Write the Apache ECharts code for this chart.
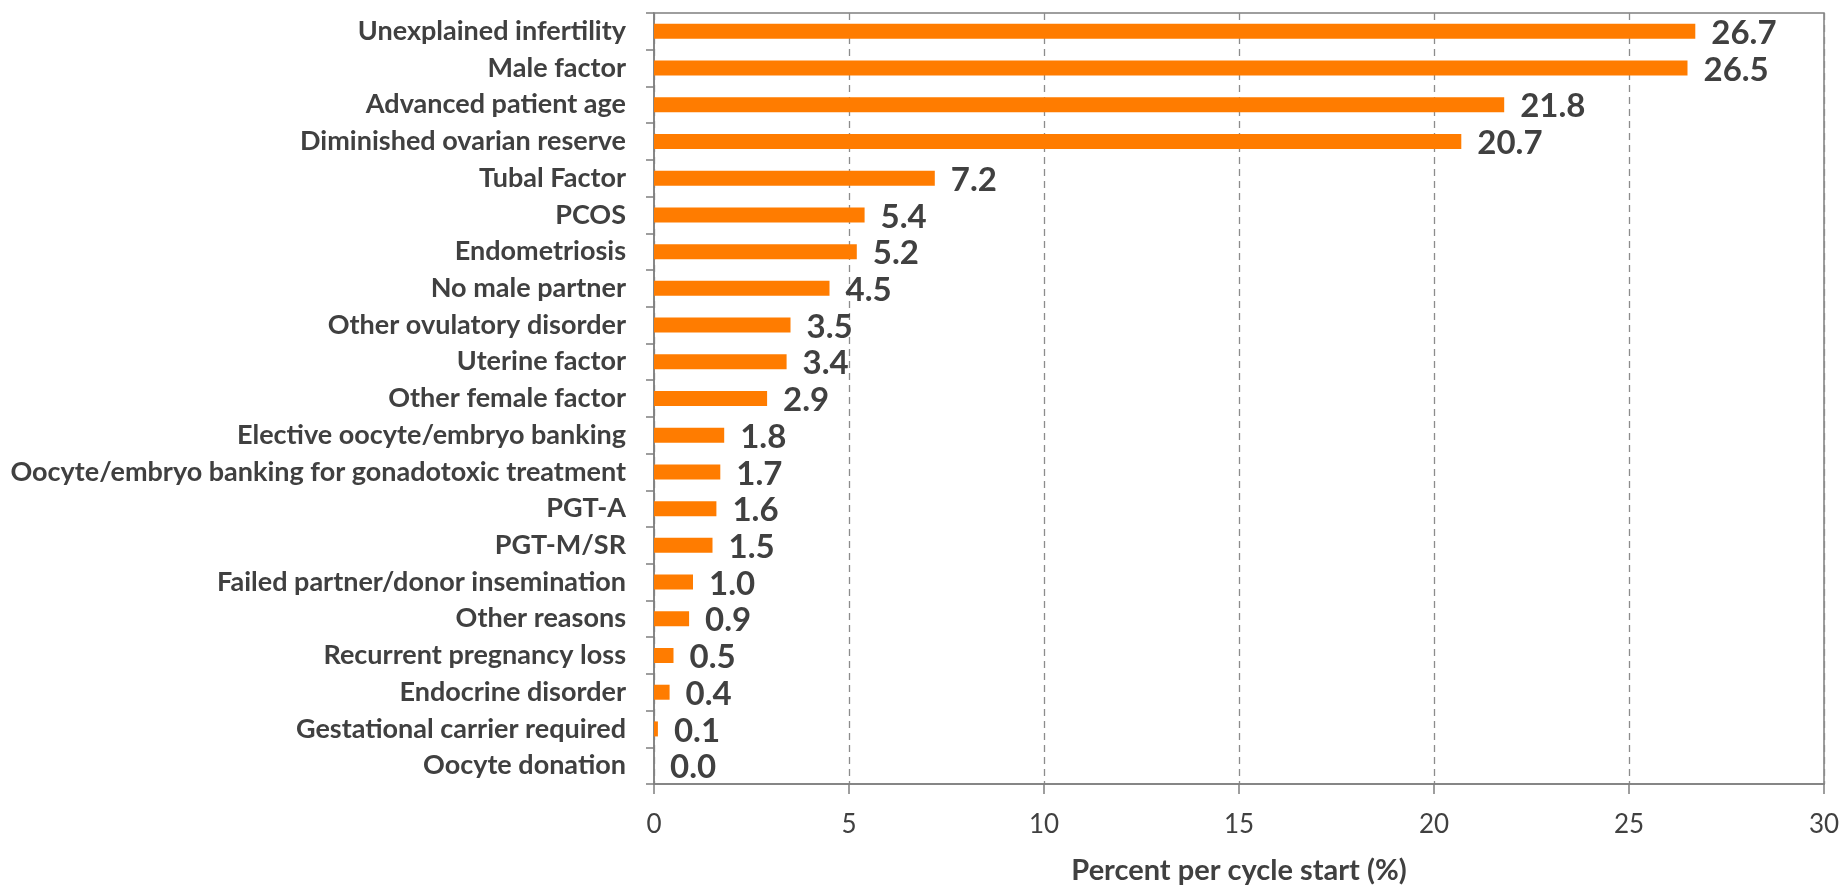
<!DOCTYPE html>
<html>
<head>
<meta charset="utf-8">
<script src="https://cdn.jsdelivr.net/npm/echarts@6/dist/echarts.min.js"></script>
<style>
html,body{margin:0;padding:0;background:#fff;}
#chart{width:1843px;height:890px;}
</style>
</head>
<body>
<div id="chart"></div>
<script>
const categories = [
  "Unexplained infertility",
  "Male factor",
  "Advanced patient age",
  "Diminished ovarian reserve",
  "Tubal Factor",
  "PCOS",
  "Endometriosis",
  "No male partner",
  "Other ovulatory disorder",
  "Uterine factor",
  "Other female factor",
  "Elective oocyte/embryo banking",
  "Oocyte/embryo banking for gonadotoxic treatment",
  "PGT-A",
  "PGT-M/SR",
  "Failed partner/donor insemination",
  "Other reasons",
  "Recurrent pregnancy loss",
  "Endocrine disorder",
  "Gestational carrier required",
  "Oocyte donation"
];
const values = [26.7, 26.5, 21.8, 20.7, 7.2, 5.4, 5.2, 4.5, 3.5, 3.4, 2.9, 1.8, 1.7, 1.6, 1.5, 1.0, 0.9, 0.5, 0.4, 0.1, 0.0];
const xTicks = [0, 5, 10, 15, 20, 25, 30];
const xTitle = "Percent per cycle start (%)";

const FONT = "Lato, 'Open Sans', sans-serif";
const TXT = "#404040";
const chart = echarts.init(document.getElementById('chart'), null, {renderer: 'canvas'});
chart.setOption({
  animation: false,
  backgroundColor: '#ffffff',
  grid: {left: 654, right: 19, top: 13, bottom: 103, containLabel: false,
         show: true, borderColor: '#7f7f7f', borderWidth: 1.5, backgroundColor: 'transparent'},
  xAxis: {
    type: 'value', min: xTicks[0], max: xTicks[xTicks.length - 1], interval: 5,
    name: xTitle, nameLocation: 'middle', nameGap: 72,
    nameTextStyle: {fontFamily: FONT, fontWeight: 'bold', fontSize: 29, color: TXT},
    axisLine: {show: true, lineStyle: {color: '#7f7f7f', width: 1.5}},
    axisTick: {show: true, length: 10, lineStyle: {color: '#7f7f7f', width: 1.5}},
    axisLabel: {fontFamily: FONT, fontSize: 26, color: TXT, margin: 28},
    splitLine: {show: true, lineStyle: {color: '#8c8c8c', type: [7, 5], width: 1.3}}
  },
  yAxis: {
    type: 'category', data: categories, inverse: true,
    axisLine: {show: true, lineStyle: {color: '#7f7f7f', width: 1.5}},
    axisTick: {show: true, length: 8, alignWithLabel: false, lineStyle: {color: '#7f7f7f', width: 1.5}},
    axisLabel: {fontFamily: FONT, fontWeight: 'bold', fontSize: 27, color: TXT, margin: 28},
    splitLine: {show: false}
  },
  series: [{
    type: 'bar', data: values, barWidth: 15,
    itemStyle: {color: '#ff7c00'},
    label: {show: true, position: 'right', distance: 16, offset: [0, 2],
            formatter: p => p.value.toFixed(1),
            fontFamily: FONT, fontWeight: 'bold', fontSize: 33, color: TXT}
  }]
});
</script>
</body>
</html>
